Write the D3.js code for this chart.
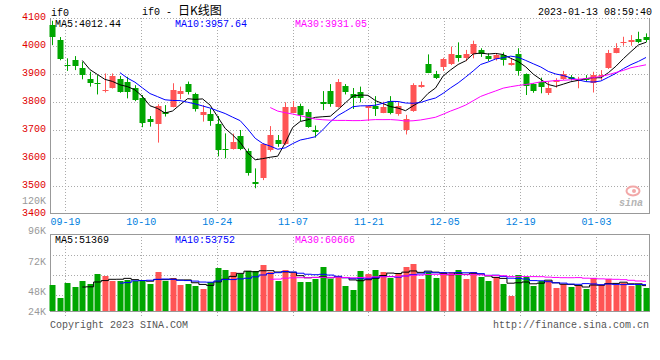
<!DOCTYPE html>
<html><head><meta charset="utf-8">
<script src="https://cdn.jsdelivr.net/npm/d3@7"></script>
<style>
html,body{margin:0;padding:0;background:#fff;}
svg{display:block;}
text{font-family:"Liberation Mono","DejaVu Sans Mono",monospace;font-size:10px;}
</style></head><body>
<svg id="c" width="660" height="360"></svg>
<script>
const dates = ["2022-09-15","2022-09-16","2022-09-19","2022-09-20","2022-09-21","2022-09-22","2022-09-23","2022-09-26","2022-09-27","2022-09-28","2022-09-29","2022-09-30",
"2022-10-10","2022-10-11","2022-10-12","2022-10-13","2022-10-14","2022-10-17","2022-10-18","2022-10-19","2022-10-20","2022-10-21","2022-10-24","2022-10-25","2022-10-26","2022-10-27","2022-10-28","2022-10-31",
"2022-11-01","2022-11-02","2022-11-03","2022-11-04","2022-11-07","2022-11-08","2022-11-09","2022-11-10","2022-11-11","2022-11-14","2022-11-15","2022-11-16","2022-11-17","2022-11-18","2022-11-21","2022-11-22","2022-11-23","2022-11-24","2022-11-25","2022-11-28","2022-11-29","2022-11-30",
"2022-12-01","2022-12-02","2022-12-05","2022-12-06","2022-12-07","2022-12-08","2022-12-09","2022-12-12","2022-12-13","2022-12-14","2022-12-15","2022-12-16","2022-12-19","2022-12-20","2022-12-21","2022-12-22","2022-12-23","2022-12-26","2022-12-27","2022-12-28","2022-12-29","2022-12-30",
"2023-01-03","2023-01-04","2023-01-05","2023-01-06","2023-01-09","2023-01-10","2023-01-11","2023-01-12"];
const opens = [4075,4020,3933,3950,3923,3882,3869,3840,3851,3882,3871,3851,3815,3740,3723,3765,3783,3829,3864,3829,3754,3757,3721,3633,3631,3680,3625,3515,3528,3629,3664,3650,3762,3786,3763,3700,3799,3839,3783,3857,3829,3835,3780,3787,3762,3804,3757,3700,3768,3852,3934,3900,3926,3934,3968,3956,3970,3986,3966,3952,3968,3932,3971,3900,3863,3873,3833,3873,3881,3888,3875,3887,3867,3894,3920,3976,4010,4013,4025,4033];
const highs = [4090,4032,3956,3964,3944,3908,3896,3902,3902,3893,3890,3860,3825,3750,3792,3789,3867,3855,3873,3833,3789,3775,3750,3688,3687,3700,3634,3563,3652,3714,3682,3799,3804,3794,3774,3716,3839,3864,3882,3864,3850,3855,3787,3821,3801,3821,3799,3754,3867,3873,3970,3911,3958,3998,4013,3986,4019,3992,3974,3974,3977,3956,3992,3902,3867,3887,3873,3885,3911,3896,3890,3896,3908,3914,3986,4010,4033,4039,4051,4045];
const lows = [4003,3949,3911,3914,3881,3855,3827,3834,3848,3833,3813,3803,3710,3712,3655,3748,3781,3810,3827,3766,3730,3715,3606,3599,3630,3628,3537,3492,3521,3623,3640,3646,3760,3732,3708,3673,3771,3783,3780,3827,3775,3799,3732,3750,3760,3756,3751,3684,3765,3851,3903,3882,3911,3932,3944,3946,3956,3961,3946,3948,3930,3930,3894,3825,3833,3831,3825,3851,3879,3877,3849,3873,3834,3879,3918,3974,4001,4001,4010,4013];
const closes = [4031,3954,3931,3929,3896,3869,3867,3843,3893,3835,3837,3808,3726,3727,3787,3756,3843,3838,3835,3775,3764,3732,3630,3628,3657,3632,3545,3506,3649,3682,3651,3783,3783,3754,3712,3694,3794,3792,3870,3835,3815,3813,3786,3775,3782,3762,3787,3739,3861,3861,3905,3885,3952,3970,3958,3970,4007,3970,3952,3968,3950,3940,3911,3858,3839,3855,3849,3877,3899,3882,3879,3879,3896,3896,3974,3994,4015,4021,4015,4021];
const volumes = [52200,25800,56300,48200,60400,54300,74600,70600,61100,61100,63100,61700,61700,54300,78700,61100,67800,52200,54900,50200,44100,58300,86800,82800,78700,74600,80700,80700,92900,79400,61100,82100,76700,58300,58300,65100,88900,65100,68500,50200,42100,80700,75300,82800,78700,66500,76700,88900,95000,64400,78700,66500,78700,78700,82800,64400,78700,68500,60400,68500,54300,29900,72600,68500,50200,60400,60400,46100,54300,48200,50200,44100,66500,52200,64400,52200,56300,50200,52200,46100];
const priceTicks = [4100,4000,3900,3800,3700,3600,3500,3400];
const volTicks = [120000,96000,72000,48000,24000];
const volTickLabels = ["120K","96K","72K","48K","24K"];
const dateTickLabels = ["09-19","10-10","10-24","11-07","11-21","12-05","12-19","01-03"];
const priceLegend = ["MA5:4012.44","MA10:3957.64","MA30:3931.05"];
const volLegend = ["MA5:51369","MA10:53752","MA30:60666"];
const maPeriods = [5,10,30];
const titleLatin = "if0 - ";
const titleCJK = "日K线图";
const stamp = "2023-01-13 08:59:40";

const UP = "#ff5555", DOWN = "#00a600";
const MA_COLORS = ["#000000","#0000ff","#ff00ff"];
const GRID = "#aaaaaa", AXIS = "#999999";

const svg = d3.select("#c");
const L = 50, R = 649;
const P = {top:18, bottom:214};
const V = {top:234, bottom:311};

const x = d3.scalePoint().domain(dates).range([52.3, 646]);
const gridX = d3.scaleLinear().domain([2, 72]).range([65, 596]);
const y = d3.scaleLinear().domain([3400, 4100]).range([P.bottom, P.top]);
const yv = d3.scaleLinear().domain([0, 156000]).range([V.bottom, V.top]);
const volLabelY = d3.scaleLinear().domain([24000, 48000, 120000]).range([311, 291.5, 200]);

const label = d => d.slice(5);
const tickDates = dates.filter(d => dateTickLabels.includes(label(d)));
const crisp = v => Math.round(v) + 0.5;

// price gridlines
svg.append("g").selectAll("line").data(priceTicks.filter(t => t > 3400)).join("line")
  .attr("x1", L).attr("x2", R).attr("y1", d => crisp(y(d))).attr("y2", d => crisp(y(d)))
  .attr("stroke", GRID).attr("stroke-dasharray", "1,2");
svg.append("g").selectAll("line").data(tickDates).join("line")
  .attr("x1", d => crisp(gridX(dates.indexOf(d)))).attr("x2", d => crisp(gridX(dates.indexOf(d))))
  .attr("y1", P.top).attr("y2", P.bottom).attr("stroke", GRID).attr("stroke-dasharray", "1,2");
// volume gridlines
svg.append("g").selectAll("line").data([0,1,2]).join("line")
  .attr("x1", L).attr("x2", R).attr("y1", k => V.top + 21.5 + 20*k).attr("y2", k => V.top + 21.5 + 20*k)
  .attr("stroke", GRID).attr("stroke-dasharray", "1,2");
svg.append("g").selectAll("line").data(tickDates).join("line")
  .attr("x1", d => crisp(gridX(dates.indexOf(d)))).attr("x2", d => crisp(gridX(dates.indexOf(d))))
  .attr("y1", V.top).attr("y2", V.bottom + 7).attr("stroke", GRID).attr("stroke-dasharray", "1,2");

// watermark
const wm = svg.append("g");
wm.append("ellipse").attr("cx", 633).attr("cy", 191).attr("rx", 6.5).attr("ry", 4.5)
  .attr("fill", "none").attr("stroke", "#f2a8a8").attr("stroke-width", 2);
wm.append("circle").attr("cx", 634).attr("cy", 191).attr("r", 2).attr("fill", "#f2a8a8");
wm.append("text").attr("x", 619).attr("y", 206).attr("font-family", "Liberation Sans, Arial, sans-serif")
  .attr("font-size", 16).attr("font-weight", "bold").attr("font-style", "italic").attr("fill", "#b4b4b4").text("sina");

// axes frames
const fr = svg.append("g").attr("stroke", AXIS).attr("fill", "none");
fr.append("line").attr("x1", L + 0.5).attr("x2", L + 0.5).attr("y1", P.top).attr("y2", P.bottom);
fr.append("line").attr("x1", R + 0.5).attr("x2", R + 0.5).attr("y1", P.top).attr("y2", P.bottom);
fr.append("line").attr("x1", L).attr("x2", R + 1).attr("y1", P.bottom - 0.5).attr("y2", P.bottom - 0.5);
fr.append("rect").attr("x", L + 0.5).attr("y", V.top + 0.5).attr("width", R - L).attr("height", V.bottom - V.top);

// candles
const idx = d3.range(dates.length);
const isUp = i => closes[i] >= opens[i];
const cg = svg.append("g");
cg.selectAll("line").data(idx).join("line")
  .attr("x1", i => crisp(x(dates[i]))).attr("x2", i => crisp(x(dates[i])))
  .attr("y1", i => y(highs[i])).attr("y2", i => y(lows[i]))
  .attr("stroke", i => isUp(i) ? UP : DOWN);
cg.selectAll("rect").data(idx).join("rect")
  .attr("x", i => Math.round(x(dates[i])) - 2.5).attr("width", 6)
  .attr("y", i => Math.round(y(Math.max(opens[i], closes[i]))))
  .attr("height", i => Math.max(1, Math.round(y(Math.min(opens[i], closes[i]))) - Math.round(y(Math.max(opens[i], closes[i])))))
  .attr("fill", i => isUp(i) ? UP : DOWN);

// volume bars
svg.append("g").selectAll("rect").data(idx).join("rect")
  .attr("x", i => Math.round(x(dates[i])) - 2.5).attr("width", 6)
  .attr("y", i => Math.round(yv(volumes[i])))
  .attr("height", i => V.bottom - Math.round(yv(volumes[i])))
  .attr("fill", i => isUp(i) ? UP : DOWN);

// moving averages
const movAvg = (arr, n) => arr.map((_, i) => i < n - 1 ? null : d3.mean(arr.slice(i - n + 1, i + 1)));
maPeriods.forEach((n, k) => {
  const m = movAvg(closes, n);
  svg.append("path").datum(idx.filter(i => m[i] != null))
    .attr("d", d3.line().x(i => x(dates[i])).y(i => y(m[i])))
    .attr("fill", "none").attr("stroke", MA_COLORS[k]).attr("stroke-width", 1);
  const mv = movAvg(volumes, n);
  svg.append("path").datum(idx.filter(i => mv[i] != null))
    .attr("d", d3.line().curve(d3.curveStep).x(i => x(dates[i])).y(i => yv(mv[i])))
    .attr("fill", "none").attr("stroke", MA_COLORS[k]).attr("stroke-width", 1);
});

// price axis labels
svg.append("g").selectAll("text").data(priceTicks).join("text")
  .attr("x", 46).attr("y", d => y(d) + 1.8).attr("text-anchor", "end").attr("fill", "#e00000").text(d => d);
// volume labels
svg.append("g").selectAll("text").data(volTicks).join("text")
  .attr("x", 46).attr("y", d => volLabelY(d) + 3.6).attr("text-anchor", "end").attr("fill", "#999999")
  .text((d, i) => volTickLabels[i]);
// date labels
svg.append("g").selectAll("text").data(tickDates).join("text")
  .attr("x", d => gridX(dates.indexOf(d)) + 0.5).attr("y", 225).attr("text-anchor", "middle").attr("fill", "#0080e0")
  .text(d => label(d));

// legends
const legX = [55, 175, 295];
svg.append("g").selectAll("text").data(priceLegend).join("text")
  .attr("x", (d, i) => legX[i]).attr("y", 27).attr("fill", (d, i) => MA_COLORS[i]).text(d => d);
svg.append("g").selectAll("text").data(volLegend).join("text")
  .attr("x", (d, i) => legX[i]).attr("y", 242.5).attr("fill", (d, i) => MA_COLORS[i]).text(d => d);

// titles
svg.append("text").attr("x", 51).attr("y", 16).attr("fill", "#000").text("if0");
const t = svg.append("text").attr("x", 142).attr("y", 15).attr("fill", "#000");
t.append("tspan").text(titleLatin);
t.append("tspan").attr("font-family", "Noto Sans CJK SC").attr("font-size", 12).text(titleCJK);
svg.append("text").attr("x", 652).attr("y", 15).attr("text-anchor", "end").attr("fill", "#000").text(stamp);
svg.append("text").attr("x", 50).attr("y", 328).attr("fill", "#555").text("Copyright 2023 SINA.COM");
svg.append("text").attr("x", 649).attr("y", 328).attr("text-anchor", "end").attr("fill", "#555").text("http://finance.sina.com.cn");
</script>
</body></html>
